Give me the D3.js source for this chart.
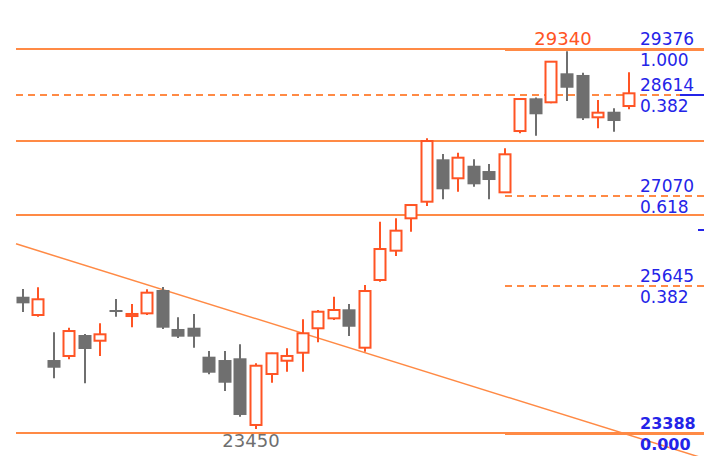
<!DOCTYPE html>
<html>
<head>
<meta charset="utf-8">
<script src="https://cdn.jsdelivr.net/npm/d3@7"></script>
<style>
  html, body { margin: 0; padding: 0; background: #fff; }
  svg { display: block; }
  text { font-family: "DejaVu Sans", sans-serif; }
</style>
</head>
<body>
<svg width="704" height="456"></svg>
<script>
// candles, one per day
var open  = [25513,25228,24526,24589,24916,24827,25306,25212,25254,25618,
             25010,25030,24578,24526,24553,23513,24308,24515,24640,25021,
             25176,25317,24718,25774,26231,26736,26995,27656,27360,27556,
             27473,27141,28097,28607,28545,28997,28971,28311,28398,28487];
var high  = [25633,25660,24958,25030,24930,25099,25478,25400,25629,25665,
             25192,25244,24667,24667,24771,24475,24640,24709,25161,25306,
             25513,25400,25696,26683,26736,26955,27983,27739,27759,27656,
             27583,27827,28612,28620,29190,29340,29006,28581,28451,29013];
var low   = [25275,25201,24241,24537,24163,24589,25201,25036,25228,25010,
             24869,24718,24303,24043,23642,23450,24172,24344,24344,24802,
             25150,24900,24656,25747,26148,26527,26928,27032,27151,27229,
             27032,27130,28061,28024,28530,28565,28269,28139,28086,28436];
var close = [25410,25473,24406,24978,24698,24927,25275,25244,25576,25030,
             24890,24890,24328,24172,23669,24437,24631,24589,24943,25279,
             25306,25045,25602,26257,26543,26943,27941,27188,27681,27266,
             27333,27734,28596,28358,29178,28772,28295,28383,28253,28685];

// support / resistance lines across the whole chart
var supportPrices = [29376, 27941, 26790, 23388];
var upperDashPrice = 28659;

// fibonacci levels on the right
var fibHigh = 29376, fibLow = 23388;
var fibRatios = [1.000, 0.618, 0.382, 0.000];
var levelPrices = [29376, 28659, 27090, 25675, 23388];
var levelValues = ["29376", "28614", "27070", "25645", "23388"];
var levelRatios = ["1.000", "0.382", "0.618", "0.382", "0.000"];

// trend line (index, price)
var trendIdx = [-0.43, 43.8];
var trendPrice = [26338, 22992];

var axisTicks = [28659, 26554];

var W = 704, H = 456;
var svg = d3.select("svg");

var x = d3.scaleLinear().domain([0, 39]).range([22.7, 629.2]);
var y = d3.scaleLinear().domain([fibLow, fibHigh]).range([433, 49]);

var lineCol = "#ff8a45",
    upCol = "#ff5424",
    downCol = "#6f6f6f",
    blue = "#2424e8";

// full width solid lines
svg.selectAll("line.sup")
  .data(supportPrices)
  .enter().append("line")
  .attr("x1", 16).attr("x2", W)
  .attr("y1", function(d) { return Math.round(y(d)); })
  .attr("y2", function(d) { return Math.round(y(d)); })
  .attr("stroke", lineCol).attr("stroke-width", 2)
  .attr("shape-rendering", "crispEdges");

svg.append("line")
  .attr("x1", 16).attr("x2", W)
  .attr("y1", Math.round(y(upperDashPrice))).attr("y2", Math.round(y(upperDashPrice)))
  .attr("stroke", lineCol).attr("stroke-width", 1.5)
  .attr("stroke-dasharray", "7,5")
  .attr("shape-rendering", "crispEdges");

// fib segments
svg.selectAll("line.fib")
  .data(fibRatios)
  .enter().append("line")
  .attr("x1", 505).attr("x2", W)
  .attr("y1", function(d) { return Math.round(y(fibLow + d * (fibHigh - fibLow))); })
  .attr("y2", function(d) { return Math.round(y(fibLow + d * (fibHigh - fibLow))); })
  .attr("stroke", lineCol)
  .attr("stroke-width", function(d) { return (d == 0 || d == 1) ? 3 : 1.5; })
  .attr("stroke-dasharray", function(d) { return (d == 0 || d == 1) ? null : "7,5"; })
  .attr("shape-rendering", "crispEdges");

// trend line
svg.append("line")
  .attr("x1", x(trendIdx[0])).attr("y1", y(trendPrice[0]))
  .attr("x2", x(trendIdx[1])).attr("y2", y(trendPrice[1]))
  .attr("stroke", lineCol).attr("stroke-width", 1.5);

// candles
var idx = d3.range(open.length);
var g = svg.selectAll("g.candle")
  .data(idx)
  .enter().append("g");

g.append("line")
  .attr("x1", function(i) { return Math.round(x(i)); })
  .attr("x2", function(i) { return Math.round(x(i)); })
  .attr("y1", function(i) { return y(high[i]); })
  .attr("y2", function(i) { return y(low[i]); })
  .attr("stroke", function(i) { return close[i] >= open[i] ? upCol : downCol; })
  .attr("stroke-width", 2);

g.append("rect")
  .attr("x", function(i) {
    return close[i] >= open[i] ? Math.round(x(i)) - 5.5 : Math.round(x(i)) - 6.5;
  })
  .attr("width", function(i) { return close[i] >= open[i] ? 11 : 13; })
  .attr("y", function(i) { return y(Math.max(open[i], close[i])); })
  .attr("height", function(i) { return Math.max(2, Math.abs(y(open[i]) - y(close[i]))); })
  .attr("fill", function(i) { return close[i] >= open[i] ? "#fff" : downCol; })
  .attr("stroke", function(i) { return close[i] >= open[i] ? upCol : "none"; })
  .attr("stroke-width", 2);

// high / low labels
var hiI = d3.maxIndex(high), loI = d3.minIndex(low);
svg.append("text")
  .attr("x", x(hiI) - 4).attr("y", 45)
  .attr("text-anchor", "middle")
  .attr("font-size", 18).attr("fill", upCol)
  .text(high[hiI]);
svg.append("text")
  .attr("x", x(loI) - 5).attr("y", 447)
  .attr("text-anchor", "middle")
  .attr("font-size", 18).attr("fill", downCol)
  .text(low[loI]);

// level labels
levelPrices.forEach(function(p, k) {
  var yy = Math.round(y(p));
  var bold = k == levelPrices.length - 1;
  svg.append("text")
    .attr("x", 640).attr("y", yy - 4)
    .attr("font-size", bold ? 16 : 17)
    .attr("font-weight", bold ? "bold" : null)
    .attr("fill", blue)
    .text(levelValues[k]);
  svg.append("text")
    .attr("x", 640).attr("y", yy + 17)
    .attr("font-size", bold ? 16 : 17)
    .attr("font-weight", bold ? "bold" : null)
    .attr("fill", blue)
    .text(levelRatios[k]);
});

// blue axis ticks on the right edge
svg.selectAll("line.tick")
  .data(axisTicks)
  .enter().append("line")
  .attr("x1", function(d, i) { return i == 0 ? 680 : 698; })
  .attr("x2", W)
  .attr("y1", function(d) { return Math.round(y(d)); })
  .attr("y2", function(d) { return Math.round(y(d)); })
  .attr("stroke", blue).attr("stroke-width", 1.5)
  .attr("shape-rendering", "crispEdges");
</script>
</body>
</html>
